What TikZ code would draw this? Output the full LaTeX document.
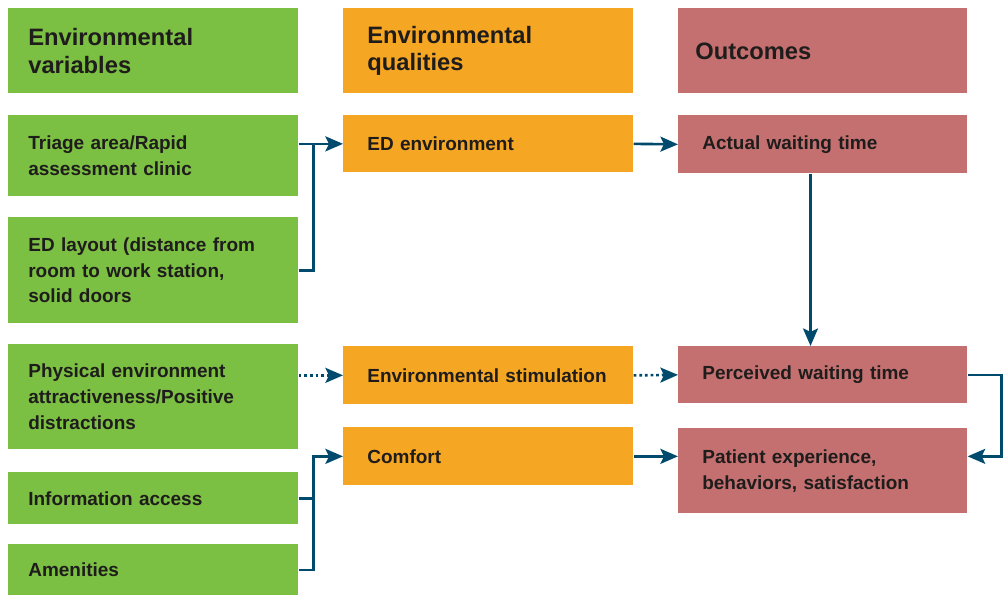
\documentclass[tikz,border=0pt]{standalone}
\usepackage{fontspec}
\setmainfont{Liberation Sans}
\usetikzlibrary{arrows.meta}
\definecolor{gvgreen}{rgb}{0.482,0.749,0.263}
\definecolor{oqorange}{rgb}{0.961,0.651,0.137}
\definecolor{rored}{rgb}{0.769,0.439,0.439}
\definecolor{lnblue}{rgb}{0.0,0.29,0.43}
\definecolor{txdark}{rgb}{0.12,0.11,0.11}
\tikzset{
	box/.style={anchor=north west,rectangle,inner ysep=0pt,align=left,text=txdark,
		font=\bfseries\fontsize{10.8}{14.7}\selectfont},
	gbox/.style={box,fill=gvgreen,inner xsep=0.4cm,text width=5.0cm},
	obox/.style={box,fill=oqorange,inner xsep=0.48cm,text width=4.84cm},
	rbox/.style={box,fill=rored,inner xsep=0.48cm,text width=4.82cm},
	head/.style={font=\bfseries\fontsize{13.5}{15.9}\selectfont},
	link/.style={draw=lnblue,line width=1.5pt,-{Stealth[length=10pt,width=8.5pt,inset=2pt]}},
	dlink/.style={link,dash pattern=on 1.6pt off 1.6pt}
}
\begin{document}
\begin{tikzpicture}[x=0.02cm,y=-0.02cm]
	\useasboundingbox (0,0) rectangle (1005,596);
	\node[gbox,head,minimum height=1.7cm] (gvar) at (8,8) {Environmental\\variables};
	\node[gbox,minimum height=1.62cm] (gtri) at (8,115) {Triage area/Rapid\\assessment clinic};
	\node[gbox,minimum height=2.12cm] (glay) at (8,217) {ED layout (distance from\\room to work station,\\solid doors};
	\node[gbox,minimum height=2.1cm] (gphy) at (8,344) {Physical environment\\attractiveness/Positive\\distractions};
	\node[gbox,minimum height=1.04cm] (ginf) at (8,472) {Information access};
	\node[gbox,minimum height=1.02cm] (game) at (8,544) {Amenities};
	\node[obox,head,minimum height=1.7cm] (oqual) at (343,8) {Environmental\\qualities};
	\node[obox,minimum height=1.14cm] (oenv) at (343,115) {ED environment};
	\node[obox,minimum height=1.16cm] (ostim) at (343,346) {Environmental stimulation};
	\node[obox,minimum height=1.16cm] (ocom) at (343,427) {Comfort};
	\node[rbox,head,inner xsep=0.34cm,text width=5.1cm,minimum height=1.7cm] (rout) at (678,8) {Outcomes};
	\node[rbox,minimum height=1.16cm] (ract) at (678,115) {Actual waiting time};
	\node[rbox,minimum height=1.14cm] (rper) at (678,346) {Perceived waiting time};
	\node[rbox,minimum height=1.7cm] (rpat) at (678,428) {Patient experience,\\behaviors, satisfaction};
	\draw[link] (glay.east) -- ++(15,0) |- (oenv.west);
	\draw[lnblue,line width=1.5pt] (gtri.east |- oenv.west) -- ++(15,0);
	\draw[link] (oenv.east) -- (ract.west);
	\draw[link] ([xshift=-7]ract.south) -- ([xshift=-7]rper.north);
	\draw[dlink] (gphy.east |- ostim.west) -- (ostim.west);
	\draw[dlink] (ostim.east) -- (rper.west);
	\draw[link] (rper.east) -- ++(34,0) |- (rpat.east |- ocom.east);
	\draw[link] (game.east) -- ++(15,0) |- (ocom.west);
	\draw[lnblue,line width=1.5pt] (ginf.east) -- ++(15,0);
	\draw[link] (ocom.east) -- (rpat.west |- ocom.east);
\end{tikzpicture}
\end{document}
